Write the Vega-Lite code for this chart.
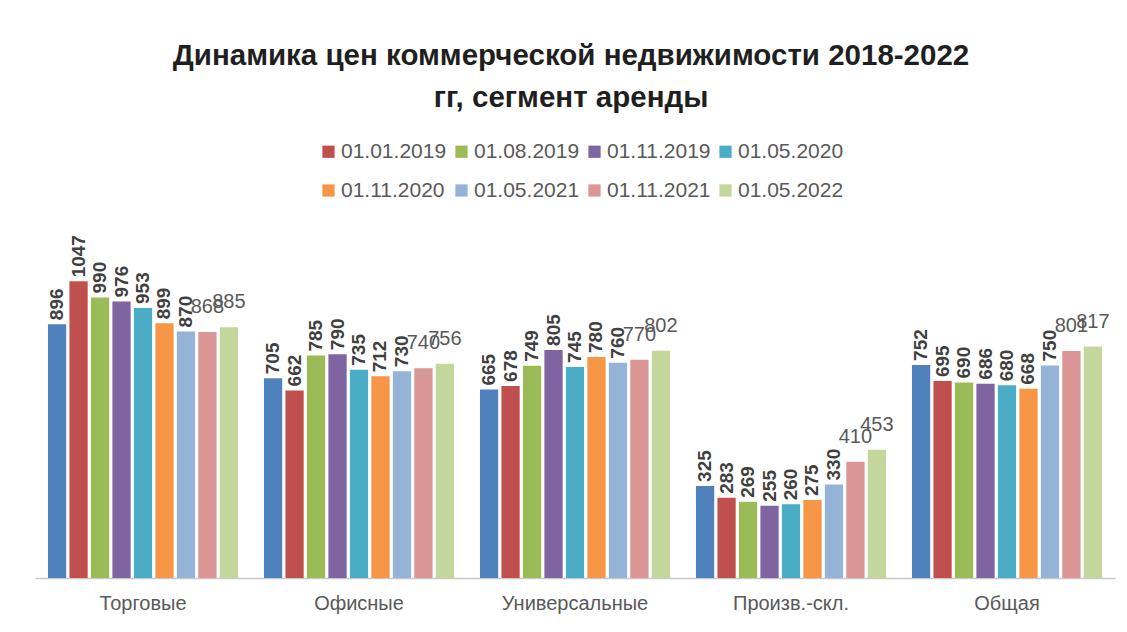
{
  "$schema": "https://vega.github.io/schema/vega-lite/v6.json",
  "autosize": {"type": "none"},
  "padding": {"left": 35, "top": 238, "right": 12, "bottom": 54},
  "width": 1080,
  "height": 340,
  "background": "white",
  "config": {"view": {"stroke": null}, "font": "Liberation Sans"},
  "title": {
    "text": ["Динамика цен коммерческой недвижимости 2018-2022", "гг, сегмент аренды"],
    "font": "Liberation Sans",
    "fontSize": 29.5,
    "fontWeight": "bold",
    "color": "#1f1f1f",
    "lineHeight": 42,
    "anchor": "middle",
    "frame": "group",
    "orient": "top",
    "offset": 28,
    "dx": -4
  },
  "data": {
    "values": [
      {"cat": "Торговые", "series": "2018", "value": 896},
      {"cat": "Торговые", "series": "01.01.2019", "value": 1047},
      {"cat": "Торговые", "series": "01.08.2019", "value": 990},
      {"cat": "Торговые", "series": "01.11.2019", "value": 976},
      {"cat": "Торговые", "series": "01.05.2020", "value": 953},
      {"cat": "Торговые", "series": "01.11.2020", "value": 899},
      {"cat": "Торговые", "series": "01.05.2021", "value": 870},
      {"cat": "Торговые", "series": "01.11.2021", "value": 868},
      {"cat": "Торговые", "series": "01.05.2022", "value": 885},
      {"cat": "Офисные", "series": "2018", "value": 705},
      {"cat": "Офисные", "series": "01.01.2019", "value": 662},
      {"cat": "Офисные", "series": "01.08.2019", "value": 785},
      {"cat": "Офисные", "series": "01.11.2019", "value": 790},
      {"cat": "Офисные", "series": "01.05.2020", "value": 735},
      {"cat": "Офисные", "series": "01.11.2020", "value": 712},
      {"cat": "Офисные", "series": "01.05.2021", "value": 730},
      {"cat": "Офисные", "series": "01.11.2021", "value": 740},
      {"cat": "Офисные", "series": "01.05.2022", "value": 756},
      {"cat": "Универсальные", "series": "2018", "value": 665},
      {"cat": "Универсальные", "series": "01.01.2019", "value": 678},
      {"cat": "Универсальные", "series": "01.08.2019", "value": 749},
      {"cat": "Универсальные", "series": "01.11.2019", "value": 805},
      {"cat": "Универсальные", "series": "01.05.2020", "value": 745},
      {"cat": "Универсальные", "series": "01.11.2020", "value": 780},
      {"cat": "Универсальные", "series": "01.05.2021", "value": 760},
      {"cat": "Универсальные", "series": "01.11.2021", "value": 770},
      {"cat": "Универсальные", "series": "01.05.2022", "value": 802},
      {"cat": "Произв.-скл.", "series": "2018", "value": 325},
      {"cat": "Произв.-скл.", "series": "01.01.2019", "value": 283},
      {"cat": "Произв.-скл.", "series": "01.08.2019", "value": 269},
      {"cat": "Произв.-скл.", "series": "01.11.2019", "value": 255},
      {"cat": "Произв.-скл.", "series": "01.05.2020", "value": 260},
      {"cat": "Произв.-скл.", "series": "01.11.2020", "value": 275},
      {"cat": "Произв.-скл.", "series": "01.05.2021", "value": 330},
      {"cat": "Произв.-скл.", "series": "01.11.2021", "value": 410},
      {"cat": "Произв.-скл.", "series": "01.05.2022", "value": 453},
      {"cat": "Общая", "series": "2018", "value": 752},
      {"cat": "Общая", "series": "01.01.2019", "value": 695},
      {"cat": "Общая", "series": "01.08.2019", "value": 690},
      {"cat": "Общая", "series": "01.11.2019", "value": 686},
      {"cat": "Общая", "series": "01.05.2020", "value": 680},
      {"cat": "Общая", "series": "01.11.2020", "value": 668},
      {"cat": "Общая", "series": "01.05.2021", "value": 750},
      {"cat": "Общая", "series": "01.11.2021", "value": 801},
      {"cat": "Общая", "series": "01.05.2022", "value": 817}
    ]
  },
  "encoding": {
    "x": {
      "field": "cat",
      "type": "nominal",
      "sort": ["Торговые", "Офисные", "Универсальные", "Произв.-скл.", "Общая"],
      "scale": {"paddingInner": 0.12, "paddingOuter": 0.06},
      "axis": {
        "title": null,
        "labelAngle": 0,
        "ticks": false,
        "domainColor": "#C8C8C8",
        "domainWidth": 1.5,
        "labelFont": "Liberation Sans",
        "labelFontSize": 20,
        "labelColor": "#595959",
        "labelPadding": 15
      }
    },
    "xOffset": {
      "field": "series",
      "type": "nominal",
      "sort": ["2018", "01.01.2019", "01.08.2019", "01.11.2019", "01.05.2020", "01.11.2020", "01.05.2021", "01.11.2021", "01.05.2022"],
      "scale": {"paddingInner": 0.15, "paddingOuter": 0}
    },
    "y": {
      "field": "value",
      "type": "quantitative",
      "scale": {"domain": [0, 1200], "nice": false},
      "axis": null
    }
  },
  "layer": [
    {
      "mark": {"type": "bar"},
      "encoding": {
        "color": {
          "field": "series",
          "type": "nominal",
          "scale": {
            "domain": ["2018", "01.01.2019", "01.08.2019", "01.11.2019", "01.05.2020", "01.11.2020", "01.05.2021", "01.11.2021", "01.05.2022"],
            "range": ["#4F81BD", "#C0504D", "#9BBB59", "#8064A2", "#4BACC6", "#F79646", "#95B3D7", "#D99694", "#C3D69B"]
          },
          "legend": {
            "title": null,
            "values": ["01.01.2019", "01.08.2019", "01.11.2019", "01.05.2020", "01.11.2020", "01.05.2021", "01.11.2021", "01.05.2022"],
            "orient": "none",
            "legendX": 283,
            "legendY": -97,
            "direction": "horizontal",
            "columns": 4,
            "symbolType": "square",
            "symbolSize": 150,
            "symbolStrokeWidth": 0,
            "labelFont": "Liberation Sans",
            "labelFontSize": 21,
            "labelColor": "#595959",
            "labelOffset": 2,
            "columnPadding": 4,
            "rowPadding": 17
          }
        }
      }
    },
    {
      "transform": [{"filter": "datum.series !== '01.11.2021' && datum.series !== '01.05.2022'"}],
      "mark": {
        "type": "text",
        "angle": 270,
        "align": "left",
        "baseline": "middle",
        "dx": 4,
        "font": "Liberation Sans",
        "fontSize": 19,
        "fontWeight": "bold",
        "color": "#404040"
      },
      "encoding": {"text": {"field": "value", "type": "quantitative"}}
    },
    {
      "transform": [{"filter": "datum.series === '01.11.2021' || datum.series === '01.05.2022'"}],
      "mark": {
        "type": "text",
        "align": "center",
        "baseline": "bottom",
        "dy": -15,
        "font": "Liberation Sans",
        "fontSize": 20,
        "color": "#595959"
      },
      "encoding": {"text": {"field": "value", "type": "quantitative"}}
    }
  ]
}
